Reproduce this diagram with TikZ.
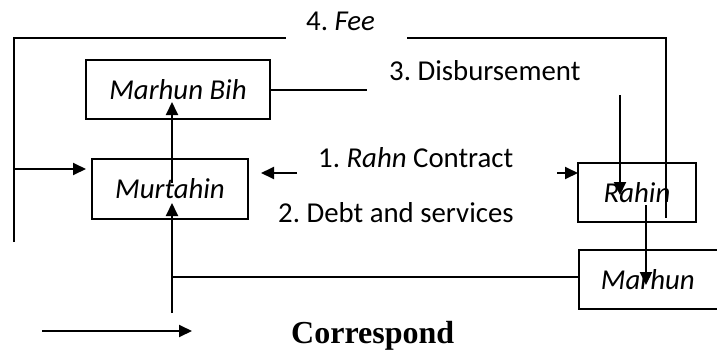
\documentclass[tikz,border=0pt]{standalone}
\usepackage{fontspec}
\setmainfont{Carlito}
\newfontfamily\serifbold{Liberation Serif}
\usetikzlibrary{arrows.meta}
\frenchspacing
\begin{document}
\begin{tikzpicture}[x=1pt,y=-1pt,
  every node/.style={font=\fontsize{28.8}{34}\selectfont},
  wire/.style={line width=1.9pt},
  arr/.style={wire,-{Triangle[length=13pt,width=12pt]}},
  boxnode/.style={draw,line width=1.9pt,inner sep=0pt,font=\fontsize{28.8}{34}\selectfont\itshape},
  label/.style={anchor=base west,inner sep=0pt}]
\useasboundingbox (0,0) rectangle (717,356);
% boxes
\node[boxnode,minimum width=184pt,minimum height=59pt] (mb) at (178,89.5) {Marhun Bih};
\node[boxnode,minimum width=156pt,minimum height=60pt] (mu) at (170,189) {Murtahin};
\node[boxnode,minimum width=118pt,minimum height=59pt] (ra) at (637,192.5) {Rahin};
\node[boxnode,minimum height=59pt,text width=110pt,align=left,inner xsep=22pt,anchor=west] (ma) at (578,279.5) {Marhun};
% labels
\node[label] (lfee) at (306,30) {4. \textit{Fee}};
\node[label] (ldis) at (389,80) {3. Disbursement};
\node[label] (lrahn) at (318,167) {1. \textit{Rahn} Contract};
\node[label] (ldebt) at (278,222) {2. Debt and services};
\node[label,font=\fontsize{32}{38}\selectfont\serifbold\bfseries] (lcor) at (291,343) {Correspond};
% coordinates
\coordinate (f1) at (14,242);
\coordinate (f2) at (286,38);
\coordinate (f3) at (407,38);
\coordinate (f4) at (666,218);
\coordinate (f5) at (14,169);
\coordinate (f6) at (86,169);
\coordinate (d1) at (367,90);
\coordinate (d2) at (620,95);
\coordinate (d3) at (620,195);
\coordinate (u1) at (172,183);
\coordinate (u2) at (172,102);
\coordinate (c1) at (297,173);
\coordinate (c2) at (261,173);
\coordinate (c3) at (557,173);
\coordinate (c4) at (578,173);
\coordinate (r1) at (646,205);
\coordinate (r2) at (646,285);
\coordinate (m1) at (578,277);
\coordinate (m2) at (172,277);
\coordinate (m3) at (172,313);
\coordinate (m4) at (172,203);
\coordinate (g1) at (42,331);
\coordinate (g2) at (192,331);
% connectors
\draw[wire] (f1) |- (f2);
\draw[wire] (f3) -| (f4);
\draw[arr] (f5) -- (f6);
\draw[wire] (mb.east |- d1) -- (d1);
\draw[arr] (d2) -- (d3);
\draw[arr] (u1) -- (u2);
\draw[arr] (c1) -- (c2);
\draw[arr] (c3) -- (c4);
\draw[arr] (r1) -- (r2);
\draw[wire] (m1) -- (m2);
\draw[arr] (m3) -- (m4);
\draw[arr] (g1) -- (g2);
\end{tikzpicture}
\end{document}
